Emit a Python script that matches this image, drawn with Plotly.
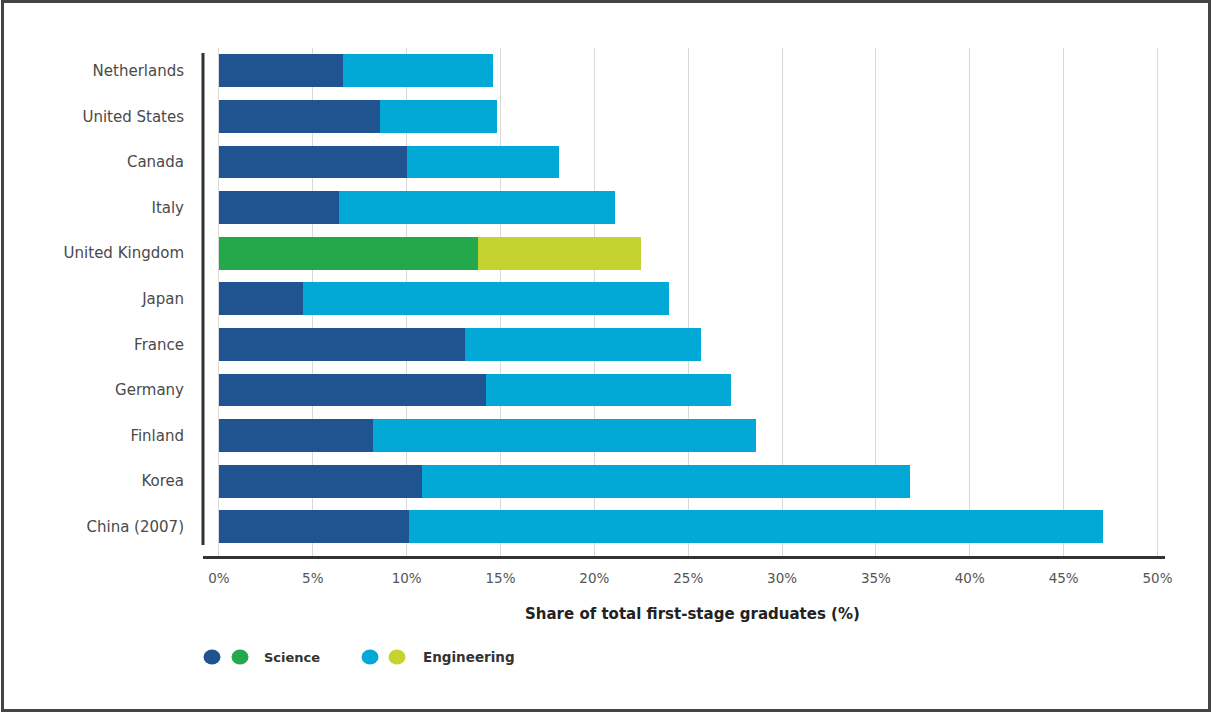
import plotly.graph_objects as go

countries = ["Netherlands", "United States", "Canada", "Italy", "United Kingdom",
             "Japan", "France", "Germany", "Finland", "Korea", "China (2007)"]
science = [6.6, 8.6, 10.0, 6.4, 13.8, 4.5, 13.1, 14.2, 8.2, 10.8, 10.1]
total = [14.6, 14.8, 18.1, 21.1, 22.5, 24.0, 25.7, 27.3, 28.6, 36.8, 47.1]
engineering = [round(t - s, 1) for t, s in zip(total, science)]
xticks = [0, 5, 10, 15, 20, 25, 30, 35, 40, 45, 50]
xticklabels = [f"{v}%" for v in xticks]

DARK_BLUE = "#1f5491"
CYAN = "#02a9d6"
GREEN = "#24a84c"
LIME = "#c5d330"
sci_colors = [GREEN if c == "United Kingdom" else DARK_BLUE for c in countries]
eng_colors = [LIME if c == "United Kingdom" else CYAN for c in countries]

W, H = 1212, 713
L, R, T, B = 203, 1165, 48, 556  # plot area in page pixels


def px(x):
    return (x - L) / (R - L)


def py(y):
    return (B - y) / (B - T)


FONT = "DejaVu Sans"

fig = go.Figure()
fig.add_trace(go.Bar(y=countries, x=science, orientation="h", name="Science",
                     marker=dict(color=sci_colors, line=dict(width=0)), width=0.72))
fig.add_trace(go.Bar(y=countries, x=engineering, orientation="h", name="Engineering",
                     marker=dict(color=eng_colors, line=dict(width=0)), width=0.72))

shapes = [
    # outer frame
    dict(type="rect", xref="paper", yref="paper", x0=px(2.5), x1=px(1209.5), y0=py(710.5), y1=py(1.5),
         line=dict(color="#444444", width=3), fillcolor="rgba(0,0,0,0)", layer="below"),
    # left vertical axis line
    dict(type="line", xref="paper", yref="paper", x0=px(203), x1=px(203), y0=py(545), y1=py(53),
         line=dict(color="#333333", width=3)),
]
# legend dots
for cx, col in [(212, DARK_BLUE), (240, GREEN), (370, CYAN), (397, LIME)]:
    shapes.append(dict(type="circle", xref="paper", yref="paper",
                       x0=px(cx - 8.5), x1=px(cx + 8.5), y0=py(657 + 7.5), y1=py(657 - 7.5),
                       fillcolor=col, line=dict(width=0)))

annotations = [
    dict(text="<b>Share of total first-stage graduates (%)</b>", xref="paper", yref="paper",
         x=px(692), y=py(614), showarrow=False, xanchor="center", yanchor="middle",
         font=dict(size=15, color="#222222", family=FONT)),
    dict(text="<b>Science</b>", xref="paper", yref="paper", x=px(262), y=py(657),
         showarrow=False, xanchor="left", yanchor="middle",
         font=dict(size=13, color="#333333", family=FONT)),
    dict(text="<b>Engineering</b>", xref="paper", yref="paper", x=px(421), y=py(657),
         showarrow=False, xanchor="left", yanchor="middle",
         font=dict(size=13.5, color="#333333", family=FONT)),
]

fig.update_layout(
    width=W, height=H,
    margin=dict(l=L, r=W - R, t=T, b=H - B, pad=0),
    barmode="stack",
    showlegend=False,
    plot_bgcolor="white",
    paper_bgcolor="white",
    font=dict(family=FONT, color="#444444"),
    shapes=shapes,
    annotations=annotations,
    xaxis=dict(range=[-0.85, 50.4], tickvals=xticks, ticktext=xticklabels,
               showgrid=True, gridcolor="#d9d9d9", gridwidth=1, zeroline=False,
               showline=True, linecolor="#333333", linewidth=3,
               ticks="", ticklabelstandoff=8,
               tickfont=dict(size=13.5, color="#555555", family=FONT)),
    yaxis=dict(type="category", categoryorder="array", categoryarray=countries,
               range=[10.64, -0.5], showgrid=False, zeroline=False, showline=False,
               ticks="", ticklabelstandoff=18,
               tickfont=dict(size=15, color="#4a4a4a", family=FONT)),
)

fig.write_html(
    "out.html",
    config={"displayModeBar": False},
    post_script="document.body.style.margin='0';document.body.style.overflow='hidden';",
)
